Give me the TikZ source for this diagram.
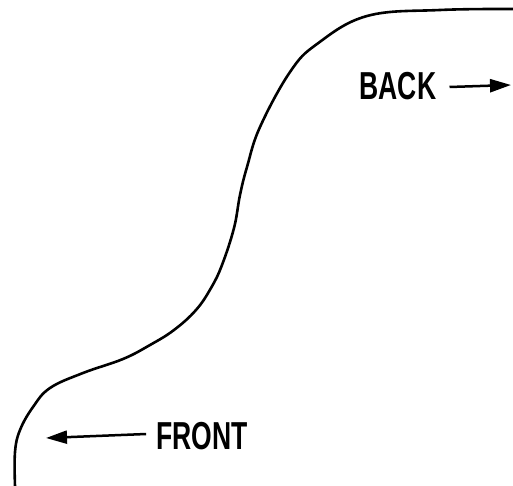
\documentclass[tikz,border=0pt]{standalone}
\usepackage{fontspec}
\setmainfont{Liberation Sans}
\newfontfamily\lblfont[FakeStretch=0.68]{Liberation Sans Bold}
\usetikzlibrary{arrows.meta}
\tikzset{
  lbl/.style={font=\lblfont\fontsize{39}{39}\selectfont, inner sep=0pt},
  pointer/.style={line width=2.5pt, -{Triangle[length=21pt,width=13pt]}},
  outline/.style={line width=2.6pt, line cap=round, line join=round}
}
\begin{document}
\begin{tikzpicture}[x=1pt,y=-1pt]
\useasboundingbox (0,0) rectangle (513,486);
\draw[outline] plot[smooth, tension=0.65] coordinates {(15,486) (15,452) (20,430) (33,407) (50,388) (83,373) (123,359) (150,345) (174,330) (196,310) (211,288) (222,265) (234,228) (240,195) (247,167) (260,127) (290,72) (317,44) (367,16) (440,10) (513,9)};
\node[lbl] (back) at (398,86) {BACK};
\node[lbl] (front) at (202,436) {FRONT};
\coordinate (backtip) at (511,85);
\coordinate (fronttip) at (46,438);
\draw[pointer] ([xshift=13pt,yshift=-1pt]back.east) -- (backtip);
\draw[pointer] ([xshift=-10pt,yshift=2pt]front.west) -- (fronttip);
\end{tikzpicture}
\end{document}
